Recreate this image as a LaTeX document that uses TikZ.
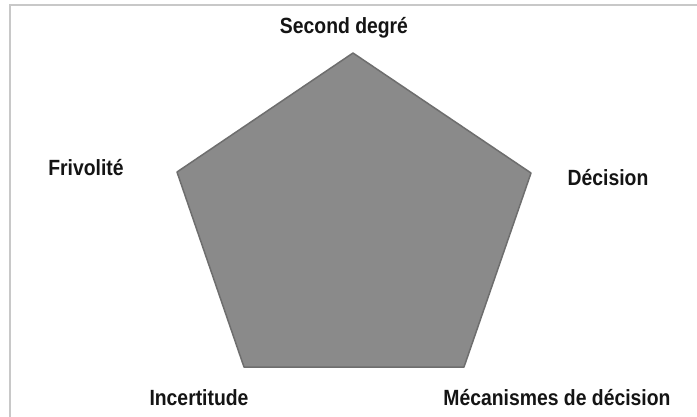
\documentclass[tikz,border=0pt]{standalone}
\usepackage{fontspec}
\newfontfamily\labfont[FakeStretch=0.88]{Liberation Sans}
\definecolor{penta}{HTML}{8A8A8A}
\definecolor{pentaedge}{HTML}{6E6E6E}
\definecolor{framecol}{HTML}{C8C8C8}
\definecolor{txt}{HTML}{141414}
\begin{document}
\begin{tikzpicture}[x=1pt,y=-1pt,
  lab/.style={font=\labfont\bfseries\fontsize{22}{26}\selectfont, text=txt, inner sep=0pt, anchor=base}]
\useasboundingbox (0,0) rectangle (697,416);
\fill[white] (0,0) rectangle (697,416);
% frame
\draw[framecol, line width=2pt] (10,418) -- (10,5) -- (699,5);
% pentagon vertices
\coordinate (top) at (353,53);
\coordinate (right) at (531,173);
\coordinate (br) at (464,367);
\coordinate (bl) at (244,367);
\coordinate (left) at (177,172);
\filldraw[fill=penta, draw=pentaedge, line width=1.5pt, line join=round]
  (top) -- (right) -- (br) -- (bl) -- (left) -- cycle;
% labels
\node[lab] (l1) at (344,33) {Second degré};
\node[lab] (l2) at (86,175) {Frivolité};
\node[lab] (l3) at (608,185) {Décision};
\node[lab] (l4) at (199,405) {Incertitude};
\node[lab] (l5) at (557,405) {Mécanismes de décision};
\end{tikzpicture}
\end{document}
